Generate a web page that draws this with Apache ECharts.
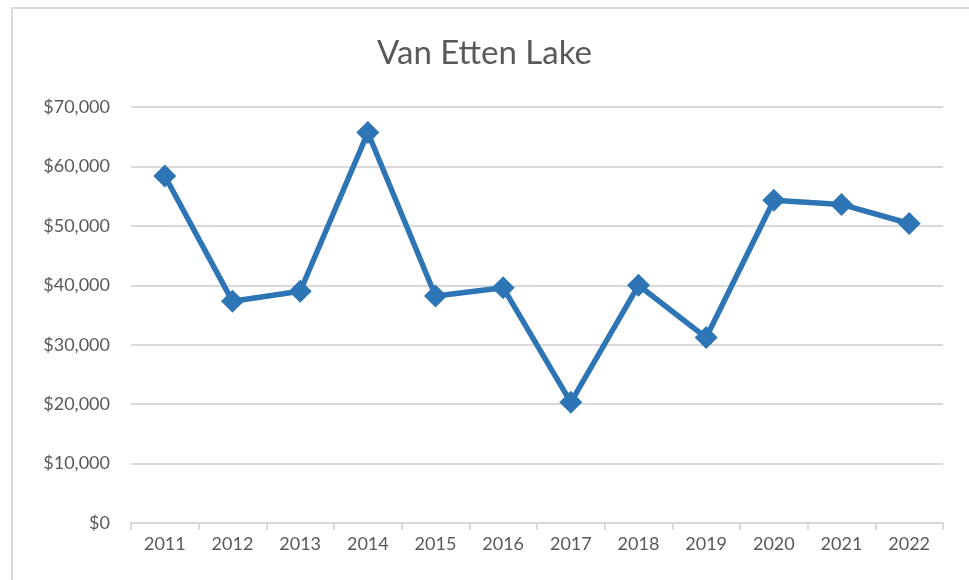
<!DOCTYPE html>
<html>
<head>
<meta charset="utf-8">
<script src="https://cdn.jsdelivr.net/npm/echarts@6/dist/echarts.min.js"></script>
<style>
  html, body { margin: 0; padding: 0; background: #fff; }
  #chart { width: 969px; height: 580px; }
</style>
</head>
<body>
<div id="chart"></div>
<script>
  // data
  const years = ['2011', '2012', '2013', '2014', '2015', '2016', '2017', '2018', '2019', '2020', '2021', '2022'];
  const values = [58400, 37300, 39000, 65700, 38200, 39600, 20300, 40000, 31200, 54300, 53600, 50400];
  const yTicks = [0, 10000, 20000, 30000, 40000, 50000, 60000, 70000];

  const textColor = '#595959';
  const lineColor = '#2e75b6';
  const gridColor = '#d9d9d9';
  const font = 'Lato, "Open Sans", sans-serif';

  const myChart = echarts.init(document.getElementById('chart'));
  const option = {
    animation: false,
    title: {
      text: 'Van Etten Lake',
      left: 'center',
      top: 32,
      textStyle: {
        color: textColor,
        fontSize: 33,
        fontWeight: 'normal',
        fontFamily: font
      }
    },
    // outer chart frame
    graphic: [{
      type: 'rect',
      shape: { x: 12, y: 8, width: 980, height: 600 },
      style: { fill: 'none', stroke: gridColor, lineWidth: 2 },
      silent: true
    }],
    grid: {
      left: 131,
      right: 26,
      top: 107,
      bottom: 57
    },
    xAxis: {
      type: 'category',
      data: years,
      boundaryGap: true,
      axisLine: { lineStyle: { color: gridColor, width: 2 } },
      axisTick: { show: true, length: 7, lineStyle: { color: gridColor, width: 2 } },
      axisLabel: {
        color: textColor,
        fontSize: 18,
        fontFamily: font,
        margin: 12
      }
    },
    yAxis: {
      type: 'value',
      min: yTicks[0],
      max: yTicks[yTicks.length - 1],
      interval: 10000,
      axisLine: { show: false },
      axisTick: { show: false },
      splitLine: { lineStyle: { color: gridColor, width: 2 } },
      axisLabel: {
        color: textColor,
        fontSize: 18,
        fontFamily: font,
        margin: 21,
        formatter: function (v) {
          return '$' + v.toLocaleString('en-US');
        }
      }
    },
    series: [{
      type: 'line',
      data: values,
      symbol: 'diamond',
      symbolSize: 23,
      lineStyle: { color: lineColor, width: 5.5 },
      itemStyle: { color: lineColor },
      z: 3
    }]
  };
  myChart.setOption(option);
</script>
</body>
</html>
